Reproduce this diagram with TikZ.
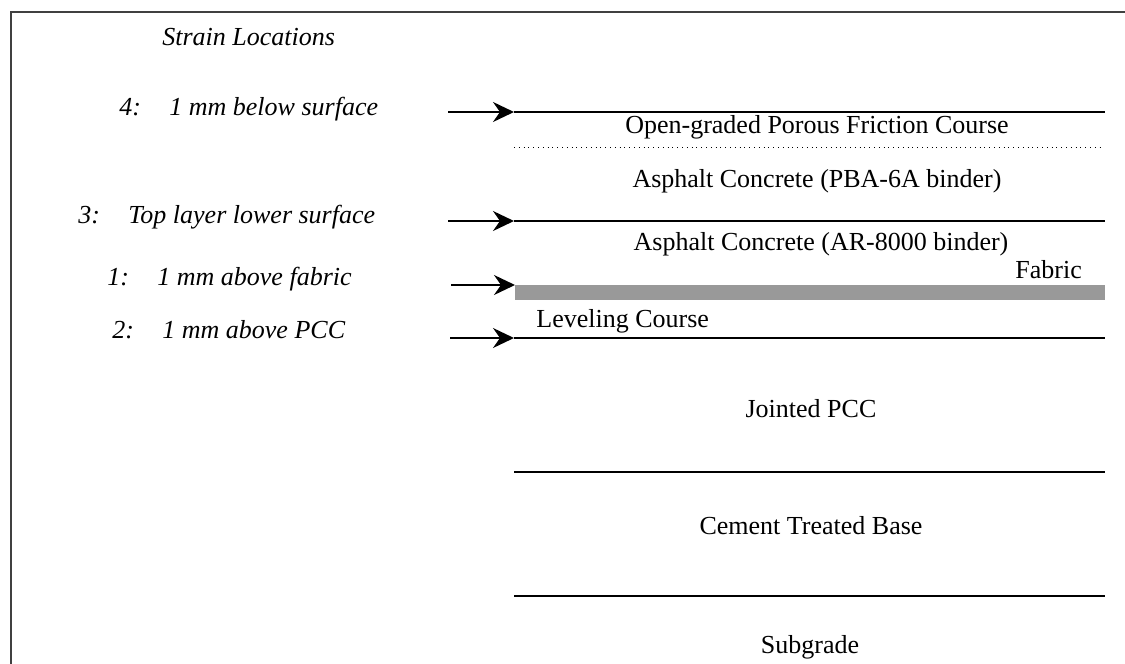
\documentclass[tikz,border=0pt]{standalone}
\usepackage{fontspec}
\setmainfont{Liberation Serif}
\usetikzlibrary{arrows.meta}
\tikzset{
  txt/.style={font=\fontsize{13}{15}\selectfont, inner sep=0pt, anchor=base},
  loc/.style={font=\fontsize{13}{15}\selectfont\itshape, inner sep=0pt, anchor=base west},
  layer/.style={line width=1pt},
  strain/.style={line width=1pt, -{Stealth[length=10.5pt,width=10pt,inset=3.5pt]}},
}
\begin{document}
\begin{tikzpicture}[x=0.5pt, y=-0.5pt]
\useasboundingbox (0,0) rectangle (1125,664);
\draw[black!75, line width=0.6pt] (11,664) -- (11,12) -- (1125,12);
% strain locations
\node[loc] (title) at (162,46) {Strain Locations};
\node[loc] (s4) at (119,115) {\makebox[25pt][l]{4:}1 mm below surface};
\node[loc] (s3) at (78,223) {\makebox[25pt][l]{3:}Top layer lower surface};
\node[loc] (s1) at (107,285) {\makebox[25pt][l]{1:}1 mm above fabric};
\node[loc] (s2) at (112,338) {\makebox[25pt][l]{2:}1 mm above PCC};
% layer boundaries
\coordinate (t4) at (448,112); \coordinate (b4) at (514,112); \coordinate (e4) at (1105,112);
\coordinate (t3) at (448,221); \coordinate (b3) at (514,221); \coordinate (e3) at (1105,221);
\coordinate (t1) at (451,285); \coordinate (b1) at (515,285); \coordinate (e1) at (1105,300);
\coordinate (t2) at (450,338); \coordinate (b2) at (514,338); \coordinate (e2) at (1105,338);
\coordinate (b5) at (514,472); \coordinate (e5) at (1105,472);
\coordinate (b6) at (514,596); \coordinate (e6) at (1105,596);
\draw[layer] (b4) -- (e4);
\draw[line width=0.4pt, dotted] (514,147) -- (1103,147);
\draw[layer] (b3) -- (e3);
\fill[black!40] (b1) rectangle (e1);
\draw[layer] (b2) -- (e2);
\draw[layer] (b5) -- (e5);
\draw[layer] (b6) -- (e6);
\draw[strain] (t4) -- (b4);
\draw[strain] (t3) -- (b3);
\draw[strain] (t1) -- (b1);
\draw[strain] (t2) -- (b2);
% layer names
\node[txt] (ogfc) at (817,133) {Open-graded Porous Friction Course};
\node[txt] (pba) at (817,187) {Asphalt Concrete (PBA-6A binder)};
\node[txt] (ar) at (821,250) {Asphalt Concrete (AR-8000 binder)};
\node[txt, anchor=base west] (fabric) at (1015,278) {Fabric};
\node[txt, anchor=base west] (level) at (536,327) {Leveling Course};
\node[txt] (pcc) at (811,417) {Jointed PCC};
\node[txt] (ctb) at (811,534) {Cement Treated Base};
\node[txt] (sub) at (810,653) {Subgrade};
\end{tikzpicture}
\end{document}
